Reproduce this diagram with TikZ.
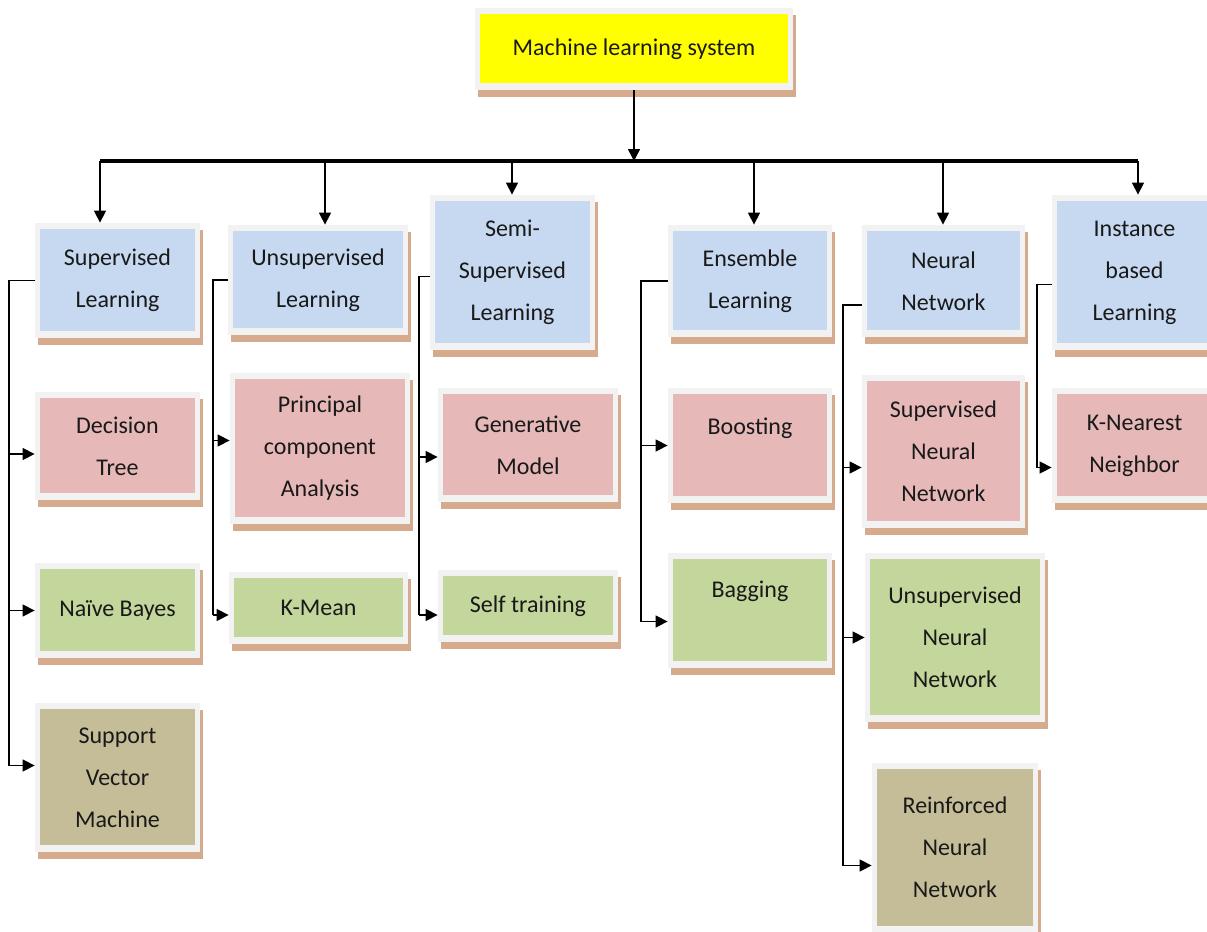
\documentclass[tikz,border=0pt]{standalone}
\usepackage{fontspec}
\setmainfont{Carlito}
\usetikzlibrary{arrows.meta,shadows}
\definecolor{rootcol}{RGB}{255,255,0}
\definecolor{bluecol}{RGB}{198,217,241}
\definecolor{pinkcol}{RGB}{230,185,184}
\definecolor{greencol}{RGB}{195,214,155}
\definecolor{khakicol}{RGB}{196,189,151}
\definecolor{framecol}{RGB}{242,242,242}
\definecolor{shadecol}{RGB}{214,170,140}
\tikzset{
  box/.style   ={rectangle, fill=framecol, inner sep=0pt, align=center,
                 font=\fontsize{12}{21}\selectfont, text=black!90,
                 drop shadow={shadow xshift=1.5pt, shadow yshift=-3.5pt,
                              fill=shadecol, opacity=1},
                 path picture={\fill[#1]
                   ([shift={(2.5pt,-3pt)}]path picture bounding box.north west) rectangle
                   ([shift={(-2.5pt,3.5pt)}]path picture bounding box.south east);}},
  yellowbox/.style={box=rootcol},
  bluebox/.style  ={box=bluecol},
  pinkbox/.style  ={box=pinkcol},
  greenbox/.style ={box=greencol},
  khakibox/.style ={box=khakicol},
  link/.style  ={line width=0.75pt},
  flow/.style  ={link, -{Triangle[length=6pt,width=6pt]}},
  bus/.style   ={line width=1.6pt},
}
\begin{document}
\begin{tikzpicture}[x=0.5pt, y=-0.5pt]
    \useasboundingbox (0,0) rectangle (1207,932);

    % root
    \node[yellowbox, minimum width=159pt, minimum height=41pt] (mls) at (634,49) {Machine learning system};

    % categories
    \node[bluebox, minimum width=82.5pt, minimum height=57.5pt] (sup) at (117.5,280.5) {Supervised\\Learning};
    \node[bluebox, minimum width=90pt, minimum height=55pt] (unsup) at (318,280) {Unsupervised\\Learning};
    \node[bluebox, minimum width=82.5pt, minimum height=77.5pt] (semi) at (512.5,272.5) {Semi-\\Supervised\\Learning};
    \node[bluebox, minimum width=82pt, minimum height=56pt] (ens) at (750,281) {Ensemble\\Learning};
    \node[bluebox, minimum width=81.5pt, minimum height=56pt] (nn) at (943.5,281) {Neural\\Network};
    \node[bluebox, minimum width=82.5pt, minimum height=77.5pt] (inst) at (1134.5,272.5) {Instance\\based\\Learning};

    % methods
    \node[pinkbox, minimum width=82.5pt, minimum height=54pt] (dtree) at (117.5,446) {Decision\\Tree};
    \node[greenbox, minimum width=82.5pt, minimum height=47.5pt] (nb) at (117.5,610.5) {Naïve Bayes};
    \node[khakibox, minimum width=82.5pt, minimum height=74.5pt] (svm) at (117.5,777.5) {Support\\Vector\\Machine};
    \node[pinkbox, minimum width=90pt, minimum height=75.5pt] (pca) at (320,448.5) {Principal\\component\\Analysis};
    \node[greenbox, minimum width=89.5pt, minimum height=36pt] (kmean) at (318.5,608) {K-Mean};
    \node[pinkbox, minimum width=90pt, minimum height=57pt] (gen) at (528,445) {Generative\\Model};
    \node[greenbox, minimum width=90pt, minimum height=36pt] (self) at (528,606) {Self training};
    \node[pinkbox, minimum width=82pt, minimum height=57.5pt, text depth=19pt] (boost) at (750,445.5) {Boosting};
    \node[greenbox, minimum width=82pt, minimum height=57.5pt, text depth=21pt] (bag) at (750,610.5) {Bagging};
    \node[pinkbox, minimum width=81.5pt, minimum height=76.5pt] (snn) at (943.5,451.5) {Supervised\\Neural\\Network};
    \node[greenbox, minimum width=90pt, minimum height=84.5pt] (unn) at (955,637.5) {Unsupervised\\Neural\\Network};
    \node[khakibox, minimum width=83pt, minimum height=85pt] (rnn) at (955,847.5) {Reinforced\\Neural\\Network};
    \node[pinkbox, minimum width=82.5pt, minimum height=57.5pt] (knn) at (1134.5,445.5) {K-Nearest\\Neighbor};

    % bus
    \coordinate (b1) at (100,161);
    \coordinate (b2) at (325,161);
    \coordinate (b3) at (512,161);
    \coordinate (b4) at (754,161);
    \coordinate (b5) at (943,161);
    \coordinate (b6) at (1138,161);
    \draw[bus] (b1) -- (b6);
    \draw[flow] (mls.south) -- (mls.south |- b1);
    \draw[flow] (b1) -- (b1 |- sup.north);
    \draw[flow] (b2) -- (b2 |- unsup.north);
    \draw[flow] (b3) -- (b3 |- semi.north);
    \draw[flow] (b4) -- (b4 |- ens.north);
    \draw[flow] (b5) -- (b5 |- nn.north);
    \draw[flow] (b6) -- (b6 |- inst.north);

    % spines
    \coordinate (s1) at (9,0);
    \coordinate (s2) at (213,0);
    \coordinate (s3) at (419,0);
    \coordinate (s4) at (641,0);
    \coordinate (s5) at (843,0);
    \coordinate (s6) at (1037,0);

    \draw[link] (sup.west) -| ([yshift=6pt]svm.west -| s1);
    \draw[flow] ([yshift=-4pt]dtree.west -| s1) -- ([yshift=-4pt]dtree.west);
    \draw[flow] (nb.west -| s1) -- (nb.west);
    \draw[flow] ([yshift=6pt]svm.west -| s1) -- ([yshift=6pt]svm.west);

    \draw[link] (unsup.west) -| ([yshift=-3.5pt]kmean.west -| s2);
    \draw[flow] ([yshift=4pt]pca.west -| s2) -- ([yshift=4pt]pca.west);
    \draw[flow] ([yshift=-3.5pt]kmean.west -| s2) -- ([yshift=-3.5pt]kmean.west);

    \draw[link] ([yshift=-2pt]semi.west) -| ([yshift=-4.5pt]self.west -| s3);
    \draw[flow] ([yshift=-6pt]gen.west -| s3) -- ([yshift=-6pt]gen.west);
    \draw[flow] ([yshift=-4.5pt]self.west -| s3) -- ([yshift=-4.5pt]self.west);

    \draw[link] (ens.west) -| ([yshift=-5.5pt]bag.west -| s4);
    \draw[flow] (boost.west -| s4) -- (boost.west);
    \draw[flow] ([yshift=-5.5pt]bag.west -| s4) -- ([yshift=-5.5pt]bag.west);

    \draw[link] ([yshift=-12pt]nn.west) -| ([yshift=-9pt]rnn.west -| s5);
    \draw[flow] ([yshift=-8pt]snn.west -| s5) -- ([yshift=-8pt]snn.west);
    \draw[flow] (unn.west -| s5) -- (unn.west);
    \draw[flow] ([yshift=-9pt]rnn.west -| s5) -- ([yshift=-9pt]rnn.west);

    \draw[link] ([yshift=-6pt]inst.west) -| ([yshift=-11pt]knn.west -| s6);
    \draw[flow] ([yshift=-11pt]knn.west -| s6) -- ([yshift=-11pt]knn.west);
\end{tikzpicture}
\end{document}
